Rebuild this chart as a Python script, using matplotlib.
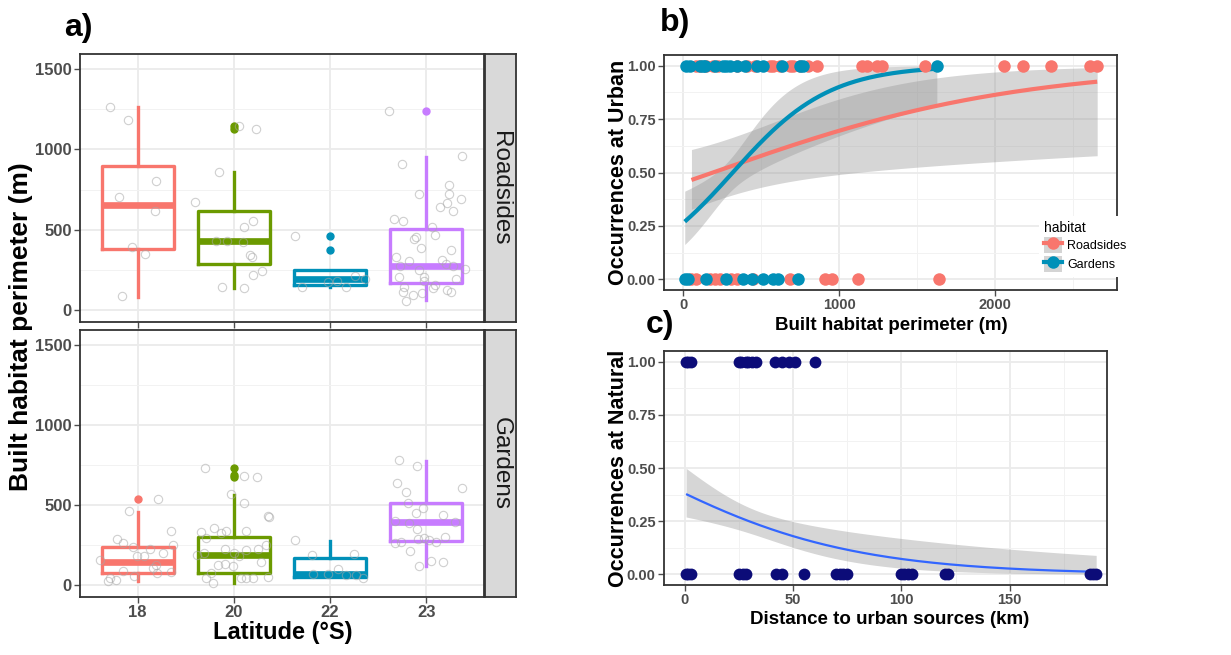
import numpy as np
import matplotlib
matplotlib.use("Agg")
import matplotlib.pyplot as plt
from matplotlib.patches import Patch
from matplotlib.lines import Line2D
from matplotlib.ticker import MultipleLocator

REG = ['Liberation Sans', 'DejaVu Sans']
plt.rcParams['font.family'] = REG

# ---------------- data: panel a ----------------
latitudes = ['18', '20', '22', '23']
box_colors = ['#F8766D', '#6B9A00', '#0090B8', '#C77CFF']
facets = ['Roadsides', 'Gardens']

# box statistics (q1, median, q3, whisker low, whisker high)
road_q1 = [379, 285, 156, 167]
road_med = [656, 431, 196, 275]
road_q3 = [900, 619, 250, 504]
road_wlo = [83, 135, 146, 62]
road_whi = [1265, 858, 250, 954]
road_fliers = [[], [1146, 1129], [462, 371], [1240]]

gard_q1 = [73, 73, 52, 275]
gard_med = [142, 188, 67, 392]
gard_q3 = [240, 298, 167, 515]
gard_wlo = [27, 10, 52, 119]
gard_whi = [458, 563, 277, 775]
gard_fliers = [[535], [733, 677, 690], [], []]

# jittered raw observations: (offset from category, value)
road_jit_off = [
    [-0.29, -0.10, -0.19, 0.19, 0.18, -0.06, 0.08, -0.16],
    [0.05, 0.23, -0.16, -0.40, 0.11, 0.20, -0.19, -0.07, 0.09, 0.17, 0.19, 0.20, 0.29, -0.12, 0.10],
    [-0.37, -0.29, 0.07, -0.02, 0.17, 0.26, 0.36],
    [-0.39, -0.25, 0.37, -0.08, 0.24, 0.24, 0.36, 0.22, 0.14, 0.28, -0.34, -0.24, 0.06, 0.09,
     -0.13, -0.11, -0.05, 0.26, -0.31, -0.18, 0.16, 0.21, 0.28, 0.40, -0.27, -0.08, -0.28,
     -0.02, 0.09, 0.31, -0.23, -0.02, 0.07, 0.22, 0.26, -0.24, -0.14, -0.04, -0.21],
]
road_jit_val = [
    [1265, 1183, 702, 802, 615, 392, 350, 88],
    [1146, 1129, 860, 675, 515, 554, 431, 431, 423, 340, 333, 217, 244, 146, 135],
    [462, 146, 183, 173, 140, 212, 196],
    [1240, 910, 958, 725, 777, 723, 692, 667, 640, 615, 567, 552, 517, 469,
     444, 454, 385, 371, 333, 302, 313, 285, 271, 256, 271, 250, 208,
     204, 156, 192, 146, 181, 135, 125, 110, 110, 94, 104, 58],
]
gard_jit_off = [
    [-0.09, 0.21, 0.35, -0.22, -0.15, -0.05, 0.13, 0.26, 0.37, -0.39, -0.01, 0.07, 0.19, 0.16,
     0.20, 0.35, -0.15, -0.04, -0.29, -0.31, -0.23],
    [-0.30, 0.10, 0.24, -0.03, 0.10, 0.35, 0.37, -0.21, -0.34, -0.08, 0.13, -0.13, -0.29, -0.38,
     -0.31, -0.09, 0.00, 0.05, 0.13, 0.25, 0.33, 0.28, -0.17, -0.09, -0.01, -0.24, -0.29, -0.22,
     0.07, 0.13, 0.20, 0.35],
    [-0.36, -0.19, 0.25, 0.08, -0.18, -0.02, 0.17, 0.27, 0.34],
    [-0.28, -0.10, -0.30, 0.37, -0.21, -0.19, -0.03, -0.11, 0.17, -0.33, -0.18, 0.30, -0.10, 0.19,
     -0.09, -0.02, 0.03, 0.10, -0.26, -0.33, -0.17, -0.08, 0.05, 0.17],
]
gard_jit_val = [
    [465, 535, 340, 285, 265, 240, 223, 202, 250, 156, 181, 181, 125, 104,
     73, 79, 88, 56, 46, 27, 31],
    [733, 683, 677, 567, 510, 431, 427, 354, 333, 340, 340, 323, 292, 188,
     198, 223, 198, 181, 219, 223, 250, 146, 125, 131, 121, 73, 46, 10,
     46, 46, 42, 48],
    [281, 188, 192, 98, 69, 69, 63, 63, 46],
    [781, 746, 635, 604, 579, 515, 479, 452, 438, 400, 390, 392, 348, 298,
     285, 292, 281, 271, 271, 260, 212, 121, 152, 142],
]

# ---------------- data: panel b ----------------
habitats = ['Roadsides', 'Gardens']
hab_colors = ['#F8766D', '#0090B8']
road_x1 = [86, 107, 150, 193, 225, 343, 407, 460, 557, 578, 621, 685, 707, 749, 803, 857,
           1146, 1178, 1242, 1274, 1552, 2056, 2180, 2360, 2612, 2655]
road_x0 = [54, 86, 171, 203, 236, 310, 343, 450, 685, 910, 953, 1124, 1638]
gard_x1 = [17, 43, 107, 128, 139, 203, 257, 278, 300, 343, 396, 471, 514, 632, 749, 771, 1627]
gard_x0 = [11, 32, 150, 278, 385, 439, 514, 578, 610, 739]
# binomial GLM fits: [intercept, slope], link-scale covariance
road_coef = [-0.195, 0.00102]
road_cov = [[0.0915, -5.03e-5], [-5.03e-5, 2.03e-7]]
gard_coef = [-1.03, 0.00323]
gard_cov = [[0.1137, -3.105e-4], [-3.105e-4, 1.082e-6]]

# ---------------- data: panel c ----------------
nat_x1 = [0.5, 1.5, 2.6, 25, 26, 28, 29, 31, 33, 41.5, 44.6, 48, 51, 60]
nat_x0 = [0.5, 1.5, 2.6, 25, 26.6, 28, 42, 45, 55, 70, 71.5, 73, 75, 100, 101, 103, 105,
          120, 121.5, 187, 188.5, 190]
nat_coef = [-0.49, -0.0206]
nat_cov = [[0.0651, -1.283e-3], [-1.283e-3, 4.29e-5]]
nat_color = '#0C0C78'
nat_line = '#3366FF'


def smooth(ax, xs, coef, cov, color, lw, zorder=3):
    coef = np.asarray(coef)
    cov = np.asarray(cov)
    g = np.linspace(min(xs), max(xs), 300)
    G = np.column_stack([np.ones_like(g), g])
    eta = G @ coef
    se = np.sqrt(np.einsum('ij,jk,ik->i', G, cov, G))
    inv = lambda e: 1 / (1 + np.exp(-e))
    ax.fill_between(g, inv(eta - 1.96 * se), inv(eta + 1.96 * se), color='#999999',
                    alpha=0.4, lw=0, zorder=zorder)
    ax.plot(g, inv(eta), color=color, lw=lw, zorder=zorder + 1, solid_capstyle='butt')


W, H = 1231, 655
fig = plt.figure(figsize=(W / 100, H / 100), dpi=100)


def fax(x0, y0, x1, y1):
    return fig.add_axes([x0 / W, 1 - y1 / H, (x1 - x0) / W, (y1 - y0) / H])


BORDER = '#333333'
TICKC = '#4D4D4D'


def style(ax, fs):
    ax.set_facecolor('white')
    for s in ax.spines.values():
        s.set_color(BORDER)
        s.set_linewidth(1.3)
    ax.grid(which='major', color='#EBEBEB', lw=1.3, zorder=0)
    ax.grid(which='minor', color='#F2F2F2', lw=0.7, zorder=0)
    ax.set_axisbelow(True)
    ax.tick_params(which='major', length=4, width=1, color=TICKC, labelcolor=TICKC,
                   labelsize=fs, pad=2)
    ax.tick_params(which='minor', length=0)
    for lab in ax.get_xticklabels() + ax.get_yticklabels():
        lab.set_fontweight('bold')


# ---------------- panel a ----------------
panels = [
    (54, 322, road_q1, road_med, road_q3, road_wlo, road_whi, road_fliers, road_jit_off, road_jit_val),
    (330, 597, gard_q1, gard_med, gard_q3, gard_wlo, gard_whi, gard_fliers, gard_jit_off, gard_jit_val),
]
for k, (yt, yb, q1, med, q3, wlo, whi, fl, joff, jval) in enumerate(panels):
    ax = fax(80, yt, 484, yb)
    pos = np.arange(len(latitudes))
    for i in range(len(latitudes)):
        st = [dict(med=med[i], q1=q1[i], q3=q3[i], whislo=wlo[i], whishi=whi[i], fliers=fl[i])]
        c = box_colors[i]
        ax.bxp(st, positions=[pos[i]], widths=0.75, showcaps=False, patch_artist=False,
               boxprops=dict(color=c, lw=2.4), whiskerprops=dict(color=c, lw=2.4),
               medianprops=dict(color=c, lw=4.8, solid_capstyle='butt'),
               flierprops=dict(marker='o', markerfacecolor=c, markeredgecolor=c, markersize=5),
               zorder=3)
        ax.plot(pos[i] + np.array(joff[i]), jval[i], 'o', mfc='none', mec='#A8A8A8',
                mew=0.8, ms=6, alpha=0.55, zorder=4)
    ax.set_xlim(-0.6, 3.6)
    ax.set_ylim(-75, 1595)
    ax.set_yticks([0, 500, 1000, 1500])
    ax.yaxis.set_minor_locator(MultipleLocator(250))
    ax.set_xticks(pos)
    ax.set_xticklabels(latitudes if k == 1 else [])
    if k == 0:
        ax.tick_params(axis='x', length=0)
    style(ax, 12)
    # strip
    sx = fax(485, yt, 516, yb)
    sx.set_facecolor('#D9D9D9')
    sx.set_xticks([])
    sx.set_yticks([])
    for s in sx.spines.values():
        s.set_color(BORDER)
        s.set_linewidth(1.3)
    sx.text(0.5, 0.5, facets[k], rotation=-90, ha='center', va='center', fontsize=17.5,
            color='#1A1A1A', transform=sx.transAxes)

fig.text(21 / W, 1 - 327 / H, 'Built habitat perimeter (m)', rotation=90, ha='center',
         va='center', fontsize=19, fontweight='bold')
fig.text(283 / W, 1 - 633 / H, 'Latitude (°S)', ha='center', va='center', fontsize=17,
         fontweight='bold')
fig.text(78 / W, 1 - 28 / H, 'a)', ha='center', va='center', fontsize=23, fontweight='bold')

# ---------------- panel b ----------------
axb = fax(664, 55, 1117, 290)
for col, x1, x0 in [(hab_colors[0], road_x1, road_x0), (hab_colors[1], gard_x1, gard_x0)]:
    axb.plot(x1, np.ones(len(x1)), 'o', color=col, ms=9, mew=0, zorder=5)
    axb.plot(x0, np.zeros(len(x0)), 'o', color=col, ms=9, mew=0, zorder=5)
smooth(axb, road_x1 + road_x0, road_coef, road_cov, hab_colors[0], 3.0)
smooth(axb, gard_x1 + gard_x0, gard_coef, gard_cov, hab_colors[1], 3.0)
axb.set_xlim(-122, 2782)
axb.set_ylim(-0.05, 1.05)
axb.set_xticks([0, 1000, 2000])
axb.xaxis.set_minor_locator(MultipleLocator(500))
axb.set_yticks([0, 0.25, 0.5, 0.75, 1.0])
axb.set_yticklabels(['0.00', '0.25', '0.50', '0.75', '1.00'])
axb.yaxis.set_minor_locator(MultipleLocator(0.125))
style(axb, 10.5)
handles = []
for col in hab_colors:
    handles.append((Patch(facecolor='#D4D4D4', edgecolor='none'),
                    Line2D([], [], color=col, lw=3, marker='o', ms=9, mew=0)))
leg = axb.legend(handles, habitats, title='habitat', loc='lower left',
                 bbox_to_anchor=(0.815, 0.03), frameon=True, fontsize=9,
                 title_fontsize=10, handlelength=1.4, handleheight=1.6,
                 handletextpad=0.4, labelspacing=0.2, borderpad=0.4, alignment='left')
leg.get_frame().set_edgecolor('none')
leg.get_frame().set_facecolor('white')
leg.get_frame().set_alpha(1)
fig.text(619 / W, 1 - 172 / H, 'Occurrences at Urban', rotation=90, ha='center',
         va='center', fontsize=15.5, fontweight='bold')
fig.text(891 / W, 1 - 325 / H, 'Built habitat perimeter (m)', ha='center', va='center',
         fontsize=13.5, fontweight='bold')
fig.text(675 / W, 1 - 23 / H, 'b)', ha='center', va='center', fontsize=23, fontweight='bold')

# ---------------- panel c ----------------
axc = fax(664, 351, 1107, 585)
axc.plot(nat_x1, np.ones(len(nat_x1)), 'o', color=nat_color, ms=8.5, mew=0, zorder=5)
axc.plot(nat_x0, np.zeros(len(nat_x0)), 'o', color=nat_color, ms=8.5, mew=0, zorder=5)
smooth(axc, nat_x1 + nat_x0, nat_coef, nat_cov, nat_line, 1.6)
axc.set_xlim(-9.7, 195)
axc.set_ylim(-0.05, 1.05)
axc.set_xticks([0, 50, 100, 150])
axc.xaxis.set_minor_locator(MultipleLocator(25))
axc.set_yticks([0, 0.25, 0.5, 0.75, 1.0])
axc.set_yticklabels(['0.00', '0.25', '0.50', '0.75', '1.00'])
axc.yaxis.set_minor_locator(MultipleLocator(0.125))
style(axc, 10.5)
fig.text(619 / W, 1 - 468 / H, 'Occurrences at Natural', rotation=90, ha='center',
         va='center', fontsize=15.5, fontweight='bold')
fig.text(890 / W, 1 - 619 / H, 'Distance to urban sources (km)', ha='center', va='center',
         fontsize=13.5, fontweight='bold')
fig.text(660 / W, 1 - 325 / H, 'c)', ha='center', va='center', fontsize=23, fontweight='bold')

fig.savefig('out.png', dpi=100, facecolor='white')
